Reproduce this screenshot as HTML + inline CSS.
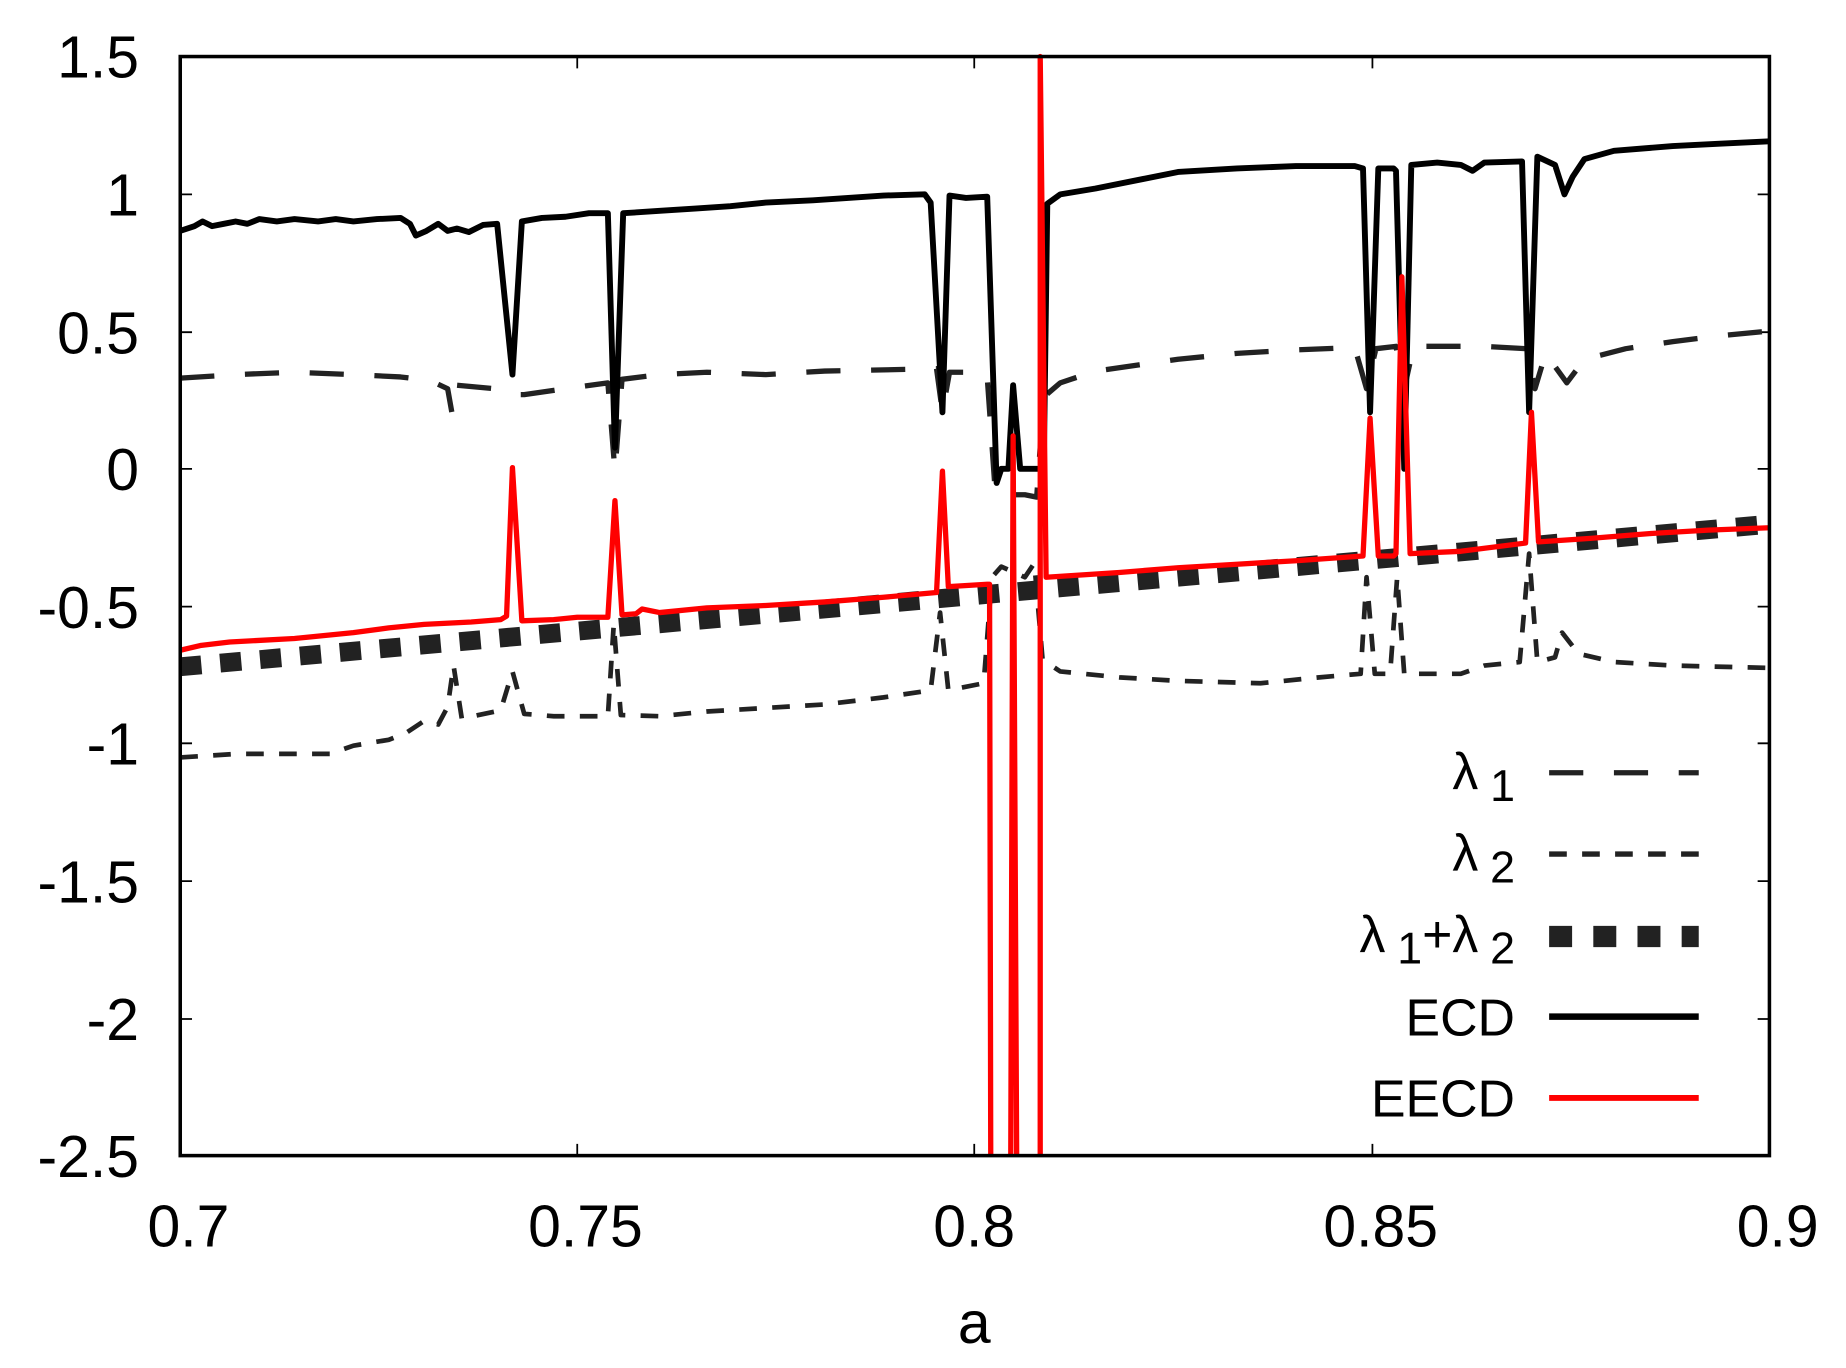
<!DOCTYPE html>
<html><head><meta charset="utf-8"><style>
html,body{margin:0;padding:0;background:#fff;}
svg{display:block;}
text{font-family:"Liberation Sans",sans-serif;fill:#000;}
</style></head><body>
<svg width="1846" height="1368" viewBox="0 0 1567 1161.3" preserveAspectRatio="none" xmlns="http://www.w3.org/2000/svg">
<rect width="1567" height="1162" fill="#fff"/>
<g stroke="#000" stroke-width="1.5">
<path d="M153 165h10M153 282h10M153 398h10M153 515h10M153 631h10M153 748h10M153 865h10M1502 165h-10M1502 282h-10M1502 398h-10M1502 515h-10M1502 631h-10M1502 748h-10M1502 865h-10"/>
<path d="M490 981v-10M827 981v-10M1165 981v-10M490 48v10M827 48v10M1165 48v10"/>
</g>
<g font-size="50" text-anchor="end">
<text x="118" y="66">1.5</text>
<text x="118" y="183">1</text>
<text x="118" y="300">0.5</text>
<text x="118" y="416">0</text>
<text x="118" y="533">-0.5</text>
<text x="118" y="649">-1</text>
<text x="118" y="766">-1.5</text>
<text x="118" y="883">-2</text>
<text x="118" y="999">-2.5</text>
</g>
<g font-size="50" text-anchor="middle">
<text x="160" y="1058">0.7</text>
<text x="497" y="1058">0.75</text>
<text x="827" y="1058">0.8</text>
<text x="1172" y="1058">0.85</text>
<text x="1509" y="1058">0.9</text>
<text x="827" y="1140">a</text>
</g>
<g fill="none" stroke-linejoin="round">
<path d="M153 566L1502 445" stroke="#222" stroke-width="16" stroke-dasharray="18,16"/>
<path d="M153 643L200 640L280 640L300 633L330 628L345 622L360 612L372 615L380 600L385 565L392 610L425 603L435 570L445 606L470 608L516 608L521 530L527 607L560 608L600 604L650 601L700 598L750 592L790 586L798 520L805 586L835 580L842 490L850 481L870 490L878 478L885 560L900 570L950 575L1000 578L1070 580L1120 575L1155 572L1160 490L1167 572L1180 572L1186 490L1192 572L1240 572L1260 565L1290 562L1298 470L1305 562L1320 558L1326 537L1340 555L1370 562L1420 565L1502 567" stroke="#222" stroke-width="4" stroke-dasharray="15,13"/>
<path d="M153 321L200 318L250 316L300 318L340 320L365 323L380 330L388 375M388 327L420 330L435 335L445 335L480 330L516 325L522 400L528 322L560 318L600 316L650 318L700 315L750 314L795 313L800 350L806 316L830 316L838 320L845 420L860 420L870 420L880 422L886 337L900 325L930 315L1000 305L1050 300L1100 297L1150 295L1160 330L1168 296L1185 294L1192 330L1200 294L1260 294L1295 296L1303 330L1312 300L1330 325L1345 305L1380 296L1420 290L1460 285L1502 281" stroke="#222" stroke-width="4.5" stroke-dasharray="29,26"/>
<path d="M153 196L165 192L172 188L180 192L190 190L200 188L210 190L220 186L235 188L250 186L270 188L285 186L300 188L320 186L340 185L348 190L353 200L362 196L372 190L380 196L388 194L398 197L410 191L422 190L435 318L443 188L460 185L480 184L500 181L516 181L522 380L529 181L560 179L590 177L620 175L650 172L690 170L720 168L750 166L785 165L790 172L800 350L806 166L820 168L838 167L846 410L850 398L856 398L860 327L866 398L884 398L886 398L889 173L900 165L930 160L970 152L1000 146L1050 143L1100 141L1150 141L1157 143L1163 350L1170 143L1183 143L1185 145L1192 398L1198 140L1220 138L1240 140L1250 145L1260 138L1292 137L1298 350L1305 133L1320 140L1328 165L1335 150L1345 135L1370 128L1420 124L1460 122L1502 120" stroke="#000" stroke-width="5"/>
<path d="M153 552L170 548L195 545L250 542L300 537L330 533L360 530L400 528L425 526L430 523L435 397L443 527L470 526L490 524L516 524L522 425L528 522L540 521L545 517L560 520L600 516L650 514L700 511L750 507L795 503L800 400L805 498L838 496L840 496L841 981M858 981L860 370L863 981M883 981L883 48L888 490L950 486L1000 482L1050 479L1100 476L1157 472L1163 355L1170 472L1183 472L1185 470L1190 235L1197 470L1240 468L1295 461L1300 350L1306 460L1350 457L1400 453L1450 450L1502 448" stroke="#f00" stroke-width="4.5"/>
</g>
<rect x="153" y="48" width="1349" height="933" fill="none" stroke="#000" stroke-width="3"/>
<g font-size="44" text-anchor="end">
<text x="1286" y="670">λ<tspan dx="10" dy="10" font-size="38">1</tspan></text>
<text x="1286" y="739">λ<tspan dx="10" dy="10" font-size="38">2</tspan></text>
<text x="1286" y="808">λ<tspan dx="10" dy="10" font-size="38">1</tspan><tspan dy="-10">+λ</tspan><tspan dx="10" dy="10" font-size="38">2</tspan></text>
<text x="1286" y="879">ECD</text>
<text x="1286" y="948">EECD</text>
</g>
<g fill="none">
<path d="M1315 656H1442" stroke="#222" stroke-width="4.5" stroke-dasharray="29,26"/>
<path d="M1315 725H1442" stroke="#222" stroke-width="4.5" stroke-dasharray="15,13"/>
<path d="M1315 795H1442" stroke="#222" stroke-width="18" stroke-dasharray="19.5,18"/>
<path d="M1315 863H1442" stroke="#000" stroke-width="5.5"/>
<path d="M1315 932H1442" stroke="#f00" stroke-width="5"/>
</g>
</svg>
</body></html>
